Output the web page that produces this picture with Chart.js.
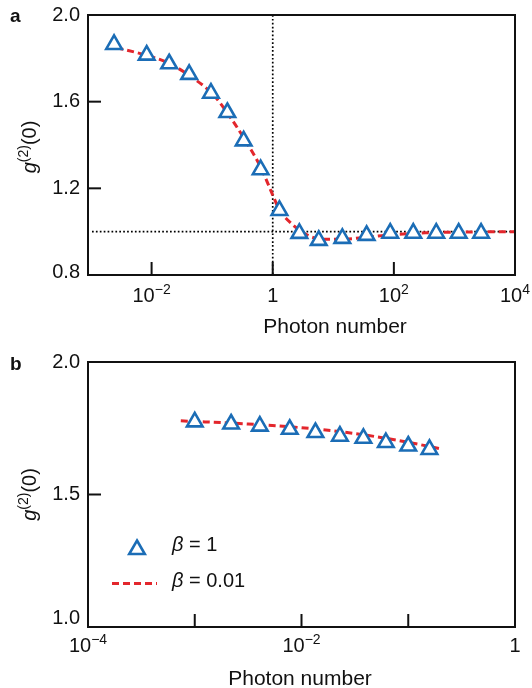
<!DOCTYPE html>
<html>
<head>
<meta charset="utf-8">
<script src="https://cdn.jsdelivr.net/npm/chart.js@4.4.1/dist/chart.umd.min.js"></script>
<style>
  body { margin: 0; background: #fff; }
  canvas { position: absolute; left: 0; }
</style>
</head>
<body>
<canvas id="panelA" width="532" height="340" style="top:0"></canvas>
<canvas id="panelB" width="532" height="348" style="top:340px"></canvas>
<script>
// ---- data, panel a ----
const photonsA = [0.0024, 0.0083, 0.0195, 0.0417, 0.0955, 0.178, 0.331, 0.631, 1.29, 2.75,
  5.75, 14.1, 35.5, 87.1, 209, 501, 1175, 2754];
const g2BetaOneA = [1.864, 1.815, 1.775, 1.726, 1.639, 1.550, 1.419, 1.286, 1.098, 0.992,
  0.960, 0.969, 0.983, 0.993, 0.993, 0.993, 0.993, 0.993];
const curvePhotonsA = [0.00263, 0.00832, 0.0186, 0.0427, 0.102, 0.182, 0.339, 0.646, 1, 1.29,
  2.14, 3.98, 7.59, 20.9, 72.4, 331, 10000];
const g2BetaSmallA = [1.849, 1.814, 1.78, 1.719, 1.635, 1.544, 1.429, 1.292, 1.169, 1.101,
  1.032, 0.98, 0.965, 0.968, 0.983, 0.995, 1.0];

// ---- data, panel b ----
const photonsB = [0.001, 0.00219, 0.00407, 0.00776, 0.0135, 0.0229, 0.038, 0.0617, 0.1, 0.158];
const g2BetaOneB = [1.774, 1.766, 1.758, 1.746, 1.734, 1.720, 1.712, 1.696, 1.683, 1.670];
const curvePhotonsB = [0.00074, 0.00316, 0.01, 0.0316, 0.1, 0.197];
const g2BetaSmallB = [1.778, 1.766, 1.752, 1.73, 1.697, 1.673];

// ---- axes ----
const xLabelTicksA = [0.01, 1, 100, 10000];
const xLabelTextA = ["10^\u22122", "1", "10^2", "10^4"];
const xMarkTicksA = [0.01, 1, 100];
const yTicksA = [0.8, 1.2, 1.6, 2.0];
const yMarkTicksA = [1.2, 1.6];

const xLabelTicksB = [0.0001, 0.01, 1];
const xLabelTextB = ["10^\u22124", "10^\u22122", "1"];
const xMarkTicksB = [0.001, 0.01, 0.1];
const yTicksB = [1.0, 1.5, 2.0];
const yMarkTicksB = [1.5];

const legendLabels = ["\u03B2 = 1", "\u03B2 = 0.01"];

const FONT = '"Liberation Sans", Arial, sans-serif';
const BLUE = "#1b6db6";
const RED = "#e3262c";
const MARKER_R = 9;

// draw "10^-2" style label centred on x
function drawPowerLabel(ctx, text, x, y) {
  const [base, exp] = text.split("^");
  ctx.font = `20px ${FONT}`;
  const wBase = ctx.measureText(base).width;
  let wExp = 0;
  if (exp) {
    ctx.font = `14px ${FONT}`;
    wExp = ctx.measureText(exp).width;
  }
  const x0 = x - (wBase + wExp) / 2;
  ctx.textAlign = "left";
  ctx.textBaseline = "alphabetic";
  ctx.font = `20px ${FONT}`;
  ctx.fillText(base, x0, y);
  if (exp) {
    ctx.font = `14px ${FONT}`;
    ctx.fillText(exp, x0 + wBase, y - 8);
  }
}

// italic Greek beta followed by the rest
function drawBetaText(ctx, text, x, y) {
  ctx.textAlign = "left";
  ctx.font = `italic 20px ${FONT}`;
  ctx.fillText(text[0], x, y);
  const w = ctx.measureText(text[0]).width;
  ctx.font = `20px ${FONT}`;
  ctx.fillText(text.slice(1), x + w, y);
}

function strokeLine(ctx, x1, y1, x2, y2) {
  ctx.beginPath();
  ctx.moveTo(x1, y1);
  ctx.lineTo(x2, y2);
  ctx.stroke();
}

const framePlugin = {
  id: "frame",
  beforeDatasetsDraw(chart, args, opts) {
    if (!opts.refLines) return;
    const { ctx, chartArea: a, scales: { x, y } } = chart;
    ctx.save();
    ctx.strokeStyle = "#000";
    ctx.lineWidth = 1.7;
    ctx.setLineDash([1.7, 2.2]);
    const px = x.getPixelForValue(1);
    strokeLine(ctx, px, a.top, px, a.bottom);
    const py = y.getPixelForValue(1);
    strokeLine(ctx, a.left + 4, py, a.right, py);
    ctx.restore();
  },
  afterDraw(chart, args, opts) {
    const { ctx, chartArea: a, scales: { x, y } } = chart;
    ctx.save();
    ctx.strokeStyle = "#111";
    ctx.fillStyle = "#111";

    // frame
    ctx.lineWidth = 2;
    ctx.strokeRect(a.left, a.top, a.right - a.left, a.bottom - a.top);

    // inward ticks
    opts.xMarks.forEach(v => {
      const px = x.getPixelForValue(v);
      strokeLine(ctx, px, a.bottom, px, a.bottom - 13);
    });
    opts.yMarks.forEach(v => {
      const py = y.getPixelForValue(v);
      strokeLine(ctx, a.left, py, a.left + 13, py);
    });

    // x tick labels
    opts.xTicks.forEach((v, i) => {
      drawPowerLabel(ctx, opts.xText[i], x.getPixelForValue(v), a.bottom + opts.xLabelDy);
    });

    // y tick labels
    ctx.font = `20px ${FONT}`;
    ctx.textAlign = "right";
    ctx.textBaseline = "middle";
    opts.yTicks.forEach((v, i) => {
      let py = y.getPixelForValue(v);
      if (i === 0) py -= opts.yBottomLift;
      ctx.fillText(v.toFixed(1), a.left - 8, py);
    });

    // x title
    ctx.textAlign = "center";
    ctx.textBaseline = "alphabetic";
    ctx.font = `21px ${FONT}`;
    ctx.fillText("Photon number", opts.xTitleX, a.bottom + 58);

    // y title g^(2)(0)
    ctx.save();
    ctx.translate(36, (a.top + a.bottom) / 2 + opts.yTitleDy);
    ctx.rotate(-Math.PI / 2);
    const parts = [
      { t: "g", f: `italic 20px ${FONT}`, dy: 0 },
      { t: "(2)", f: `14px ${FONT}`, dy: -8 },
      { t: "(0)", f: `20px ${FONT}`, dy: 0 }
    ];
    let total = 0;
    parts.forEach(p => { ctx.font = p.f; p.w = ctx.measureText(p.t).width; total += p.w; });
    let cx = -total / 2;
    ctx.textAlign = "left";
    parts.forEach(p => { ctx.font = p.f; ctx.fillText(p.t, cx, p.dy); cx += p.w; });
    ctx.restore();

    // panel letter
    ctx.font = `bold 19px ${FONT}`;
    ctx.textAlign = "left";
    ctx.fillText(opts.letter, 10, opts.letterY);

    // legend
    if (opts.legend) {
      const lx = 137, ly1 = 209.5, ly2 = 243.5;
      ctx.fillStyle = "#fff";
      ctx.strokeStyle = BLUE;
      ctx.lineWidth = 2.6;
      Chart.helpers.drawPoint(ctx, { pointStyle: "triangle", radius: MARKER_R, rotation: 0, borderWidth: 2.6 }, lx, ly1);
      ctx.strokeStyle = RED;
      ctx.lineWidth = 3;
      ctx.setLineDash([7, 4]);
      strokeLine(ctx, 112, ly2, 157, ly2);
      ctx.setLineDash([]);
      ctx.fillStyle = "#111";
      drawBetaText(ctx, legendLabels[0], 172, 210.5);
      drawBetaText(ctx, legendLabels[1], 172, 246.5);
    }
    ctx.restore();
  }
};

function makePanel(id, cfg) {
  return new Chart(document.getElementById(id), {
    type: "line",
    data: {
      datasets: [
        {
          label: "\u03B2 = 1",
          data: cfg.px.map((v, i) => ({ x: v, y: cfg.py[i] })),
          showLine: false,
          pointStyle: "triangle",
          pointRadius: MARKER_R,
          pointBorderWidth: 2.6,
          pointBorderColor: BLUE,
          pointBackgroundColor: "#fff",
          order: 0,
          clip: false
        },
        {
          label: "\u03B2 = 0.01",
          data: cfg.cx.map((v, i) => ({ x: v, y: cfg.cy[i] })),
          borderColor: RED,
          borderWidth: 3,
          borderDash: [7, 4],
          pointRadius: 0,
          cubicInterpolationMode: "monotone",
          order: 1,
          clip: false
        }
      ]
    },
    options: {
      responsive: false,
      animation: false,
      devicePixelRatio: 1,
      layout: { padding: { top: cfg.top, right: 17, left: 0, bottom: 0 } },
      plugins: {
        legend: { display: false },
        tooltip: { enabled: false },
        frame: cfg.frame
      },
      scales: {
        x: {
          type: "logarithmic",
          min: cfg.xMin,
          max: cfg.xMax,
          ticks: { display: false },
          grid: { display: false },
          border: { display: false },
          afterFit(s) { s.height = cfg.bottom; }
        },
        y: {
          type: "linear",
          min: cfg.yMin,
          max: cfg.yMax,
          ticks: { display: false },
          grid: { display: false },
          border: { display: false },
          afterFit(s) { s.width = 88; }
        }
      }
    },
    plugins: [framePlugin]
  });
}

makePanel("panelA", {
  px: photonsA, py: g2BetaOneA, cx: curvePhotonsA, cy: g2BetaSmallA,
  xMin: Math.pow(10, -3.05), xMax: 10000, yMin: 0.8, yMax: 2.0,
  top: 15, bottom: 65,
  frame: {
    refLines: true, xMarks: xMarkTicksA, yMarks: yMarkTicksA,
    xTicks: xLabelTicksA, xText: xLabelTextA, yTicks: yTicksA,
    xLabelDy: 27, yBottomLift: 3, xTitleX: 335, yTitleDy: 2,
    letter: "a", letterY: 22, legend: false
  }
});

makePanel("panelB", {
  px: photonsB, py: g2BetaOneB, cx: curvePhotonsB, cy: g2BetaSmallB,
  xMin: 0.0001, xMax: 1, yMin: 1.0, yMax: 2.0,
  top: 22, bottom: 61,
  frame: {
    refLines: false, xMarks: xMarkTicksB, yMarks: yMarkTicksB,
    xTicks: xLabelTicksB, xText: xLabelTextB, yTicks: yTicksB,
    xLabelDy: 25, yBottomLift: 9, xTitleX: 300, yTitleDy: 0,
    letter: "b", letterY: 29.5, legend: true
  }
});
</script>
</body>
</html>
